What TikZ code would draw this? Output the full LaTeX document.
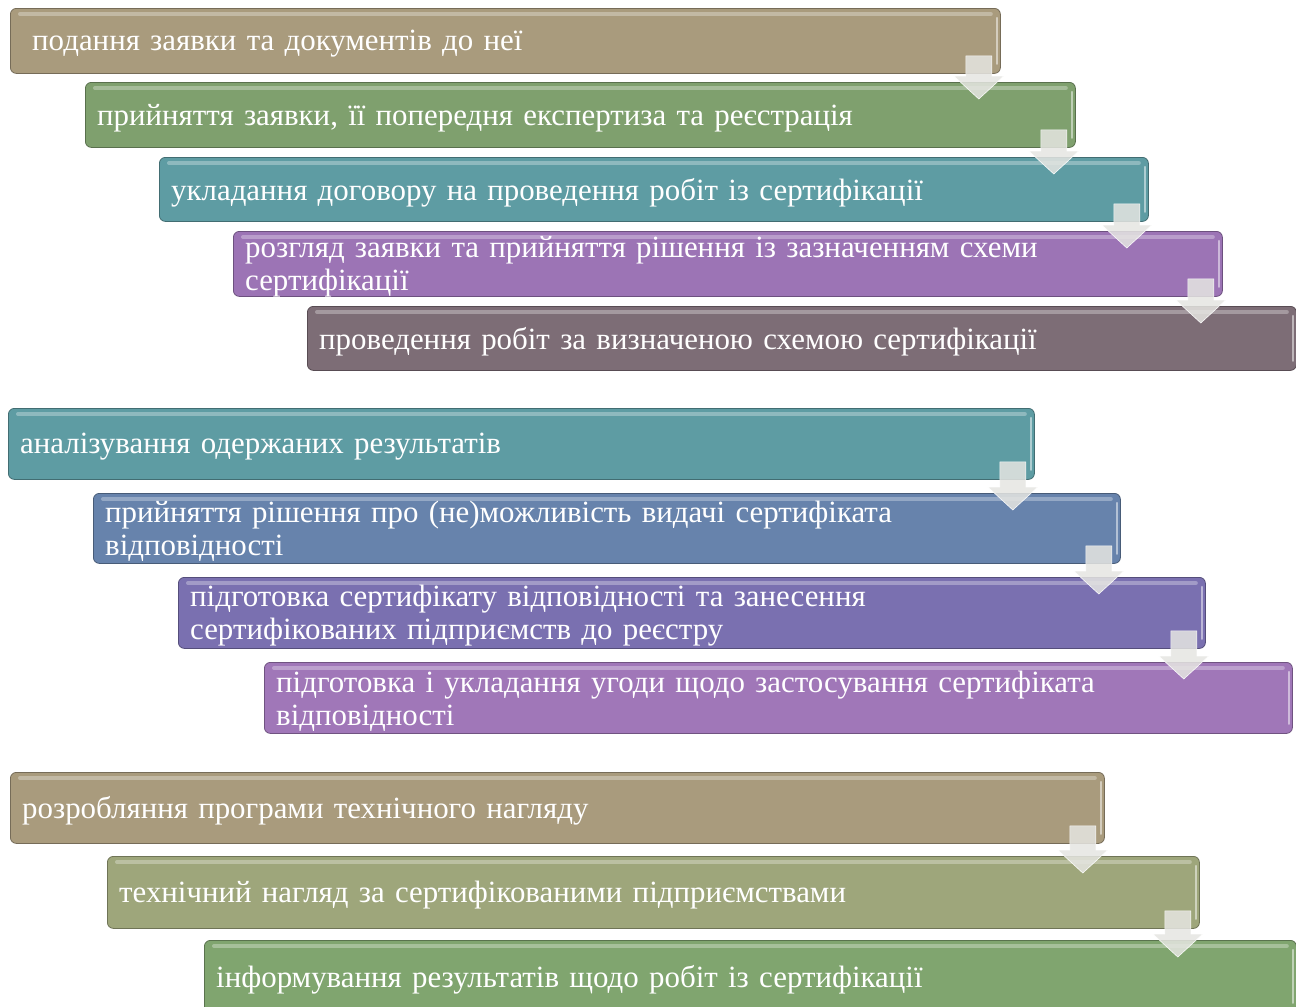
\documentclass[tikz,border=0pt]{standalone}
\usepackage{fontspec}
\setmainfont{Liberation Serif}
\usetikzlibrary{calc}
\definecolor{cTan}{HTML}{A99B7D}
\definecolor{cGreen}{HTML}{7FA06E}
\definecolor{cTeal}{HTML}{5E9CA3}
\definecolor{cPurple}{HTML}{9C74B5}
\definecolor{cMauve}{HTML}{7D6D76}
\definecolor{cSlate}{HTML}{6783AC}
\definecolor{cIndigo}{HTML}{7A70B0}
\definecolor{cViolet}{HTML}{A077B8}
\definecolor{cOlive}{HTML}{9EA67B}
\definecolor{cLeaf}{HTML}{80A56F}
\definecolor{cArrow}{HTML}{E6E6E2}
\tikzset{
  stepbox/.style={draw=#1!70!black, fill=#1, line width=0.8bp, rounded corners=6bp,
    anchor=north west, inner sep=0bp},
  steptext/.style={anchor=west, inner sep=0bp, align=left, text=white,
    font=\fontsize{31}{33}\selectfont},
  glossline/.style={white, opacity=0.3, line width=4bp, line cap=round},
  edgeline/.style={white, opacity=0.5, line width=2.5bp, line cap=round},
  flowarr/.style={fill=cArrow, fill opacity=0.85, draw=white, draw opacity=0.9, line width=0.6bp}
}
\newcommand\stepnode[7]{%
  \pgfmathsetmacro\tw{#4-24}%
  \node[stepbox=#6, minimum width=#4bp, minimum height=#5bp] (#1) at (#2bp,-#3bp) {};
  \draw[glossline] ($(#1.north west)+(10bp,-6bp)$) -- ($(#1.north east)+(-10bp,-6bp)$);
  \draw[edgeline] ($(#1.north east)+(-4bp,-10bp)$) -- ($(#1.south east)+(-4bp,10bp)$);
  \node[steptext, text width=\tw bp] (#1t) at ($(#1.west)+(12bp,-3bp)$) {#7};
}
\newcommand\flowarrow[2]{%
  \draw[flowarr] let \p1=(#1.south east), \p2=(#2.north),
    \n1={\x1-22bp}, \n2={\y1+18bp}, \n3={\y2-17bp}, \n4={\y2+6bp} in
    (\n1-13bp,\n2) -- (\n1+13bp,\n2) -- (\n1+13bp,\n4) -- (\n1+25bp,\n4) --
    (\n1,\n3) -- (\n1-25bp,\n4) -- (\n1-13bp,\n4) -- cycle;
}
\begin{document}
\begin{tikzpicture}
\useasboundingbox[fill=white] (0,0) rectangle (1296bp,-1007bp);
% group 1
\stepnode{b1}{10}{8}{990}{65}{cTan}{\hspace*{10bp}подання заявки та документів до неї}
\stepnode{b2}{85}{82}{990}{65}{cGreen}{прийняття заявки, її попередня експертиза та реєстрація}
\stepnode{b3}{159}{157}{989}{64}{cTeal}{укладання договору на проведення робіт із сертифікації}
\stepnode{b4}{233}{231}{989}{65}{cPurple}{розгляд заявки та прийняття рішення із зазначенням схеми\\сертифікації}
\stepnode{b5}{307}{306}{989}{64}{cMauve}{проведення робіт за визначеною схемою сертифікації}
\flowarrow{b1}{b2}
\flowarrow{b2}{b3}
\flowarrow{b3}{b4}
\flowarrow{b4}{b5}
% group 2
\stepnode{b6}{8}{408}{1026}{71}{cTeal}{аналізування одержаних результатів}
\stepnode{b7}{93}{493}{1027}{70}{cSlate}{прийняття рішення про (не)можливість видачі сертифіката\\відповідності}
\stepnode{b8}{178}{577}{1027}{71}{cIndigo}{підготовка сертифікату відповідності та занесення\\сертифікованих підприємств до реєстру}
\stepnode{b9}{264}{662}{1028}{71}{cViolet}{підготовка і укладання угоди щодо застосування сертифіката\\відповідності}
\flowarrow{b6}{b7}
\flowarrow{b7}{b8}
\flowarrow{b8}{b9}
% group 3
\stepnode{b10}{10}{772}{1094}{71}{cTan}{розробляння програми технічного нагляду}
\stepnode{b11}{107}{856}{1092}{72}{cOlive}{технічний нагляд за сертифікованими підприємствами}
\stepnode{b12}{204}{940}{1092}{72}{cLeaf}{інформування результатів щодо робіт із сертифікації}
\flowarrow{b10}{b11}
\flowarrow{b11}{b12}
\end{tikzpicture}
\end{document}
